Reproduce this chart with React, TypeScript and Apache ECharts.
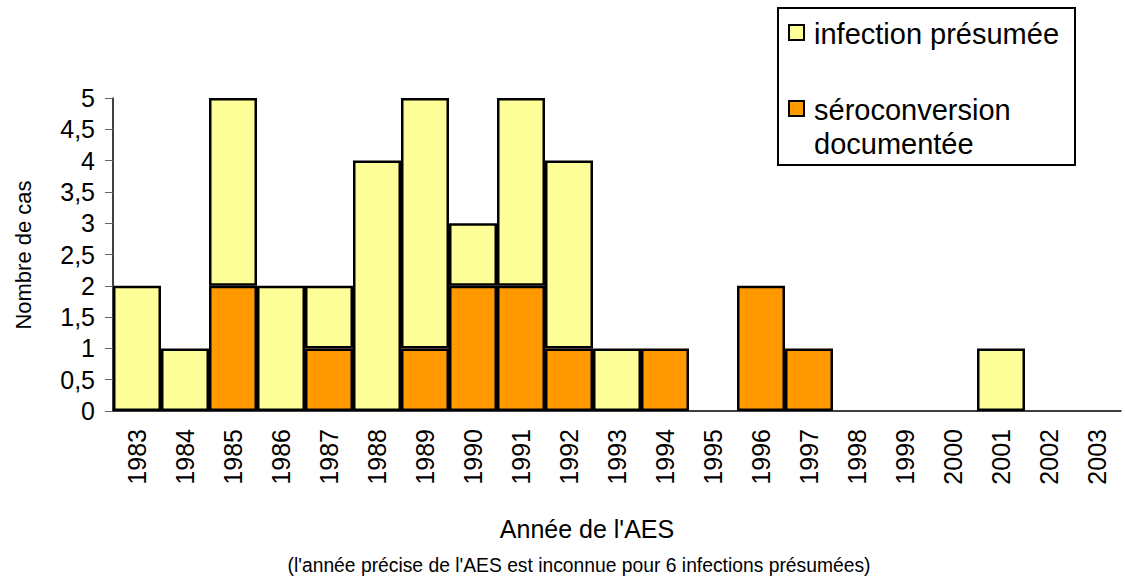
import React, { useEffect, useRef } from "react";
import * as echarts from "echarts";

const years = ["1983","1984","1985","1986","1987","1988","1989","1990","1991","1992","1993","1994","1995","1996","1997","1998","1999","2000","2001","2002","2003"];
const seroconversion = [0,0,2,0,1,0,1,2,2,1,0,1,0,2,1,0,0,0,0,0,0];
const infection = [2,1,3,2,1,4,4,1,3,3,1,0,0,0,0,0,0,0,1,0,0];
const yTicks = [0,0.5,1,1.5,2,2.5,3,3.5,4,4.5,5];
const seriesNames = ["infection présumée", "séroconversion documentée"];
const legendLines = ["infection présumée", "séroconversion", "documentée"];
const yTitle = "Nombre de cas";
const xTitle = "Année de l'AES";
const note = "(l'année précise de l'AES est inconnue pour 6 infections présumées)";

const FONT = "'Liberation Sans', Arial, sans-serif";
const YELLOW = "#FFFF99";
const ORANGE = "#FF9900";

export default function App() {
  const ref = useRef<HTMLDivElement>(null);
  useEffect(() => {
    document.body.style.margin = "0";
    const chart = echarts.init(ref.current!, null, { renderer: "svg" });
    const toData = (arr: number[]) => arr.map((v) => (v === 0 ? null : v));
    chart.setOption({
      animation: false,
      backgroundColor: "#ffffff",
      textStyle: { fontFamily: FONT, color: "#000" },
      grid: { left: 113, right: 4, top: 98, bottom: 170, containLabel: false },
      xAxis: {
        type: "category",
        data: years,
        axisTick: { show: false },
        axisLine: { lineStyle: { color: "#000", width: 1.5 } },
        axisLabel: { rotate: 90, fontSize: 25, color: "#000", fontFamily: FONT, margin: 18, interval: 0 },
        splitLine: { show: false },
      },
      yAxis: {
        type: "value",
        min: yTicks[0],
        max: yTicks[yTicks.length - 1],
        interval: yTicks[1] - yTicks[0],
        axisLine: { show: true, lineStyle: { color: "#000", width: 1.5 } },
        axisTick: { show: true, length: 8, lineStyle: { color: "#666" } },
        axisLabel: {
          fontSize: 25,
          color: "#000",
          fontFamily: FONT,
          margin: 18,
          formatter: (v: number) => String(v).replace(".", ","),
        },
        splitLine: { show: false },
      },
      series: [
        {
          name: seriesNames[1],
          type: "bar",
          stack: "total",
          data: toData(seroconversion),
          barCategoryGap: "0%",
          itemStyle: { color: ORANGE, borderColor: "#000", borderWidth: 2.5 },
        },
        {
          name: seriesNames[0],
          type: "bar",
          stack: "total",
          data: toData(infection),
          barCategoryGap: "0%",
          itemStyle: { color: YELLOW, borderColor: "#000", borderWidth: 2.5 },
        },
      ],
      graphic: [
        {
          type: "rect",
          shape: { x: 778, y: 8, width: 297, height: 157 },
          style: { fill: "#fff", stroke: "#000", lineWidth: 2 },
        },
        {
          type: "rect",
          shape: { x: 789, y: 25, width: 15, height: 15 },
          style: { fill: YELLOW, stroke: "#000", lineWidth: 2 },
        },
        {
          type: "text",
          x: 814,
          y: 34,
          style: { text: legendLines[0], font: `29px ${FONT}`, fill: "#000", verticalAlign: "middle", align: "left" },
        },
        {
          type: "rect",
          shape: { x: 789, y: 101, width: 15, height: 15 },
          style: { fill: ORANGE, stroke: "#000", lineWidth: 2 },
        },
        {
          type: "text",
          x: 814,
          y: 110,
          style: { text: legendLines[1], font: `29px ${FONT}`, fill: "#000", verticalAlign: "middle", align: "left" },
        },
        {
          type: "text",
          x: 814,
          y: 144,
          style: { text: legendLines[2], font: `29px ${FONT}`, fill: "#000", verticalAlign: "middle", align: "left" },
        },
        {
          type: "text",
          x: 587,
          y: 529,
          style: { text: xTitle, font: `25px ${FONT}`, fill: "#000", verticalAlign: "middle", align: "center" },
        },
        {
          type: "text",
          x: 579,
          y: 565,
          style: { text: note, font: `19.3px ${FONT}`, fill: "#000", verticalAlign: "middle", align: "center" },
        },
        {
          type: "text",
          x: 23,
          y: 255,
          rotation: Math.PI / 2,
          style: { text: yTitle, font: `22px ${FONT}`, fill: "#000", verticalAlign: "middle", align: "center" },
        },
      ],
    });
    return () => chart.dispose();
  }, []);
  return <div ref={ref} style={{ width: 1125, height: 581 }} />;
}
